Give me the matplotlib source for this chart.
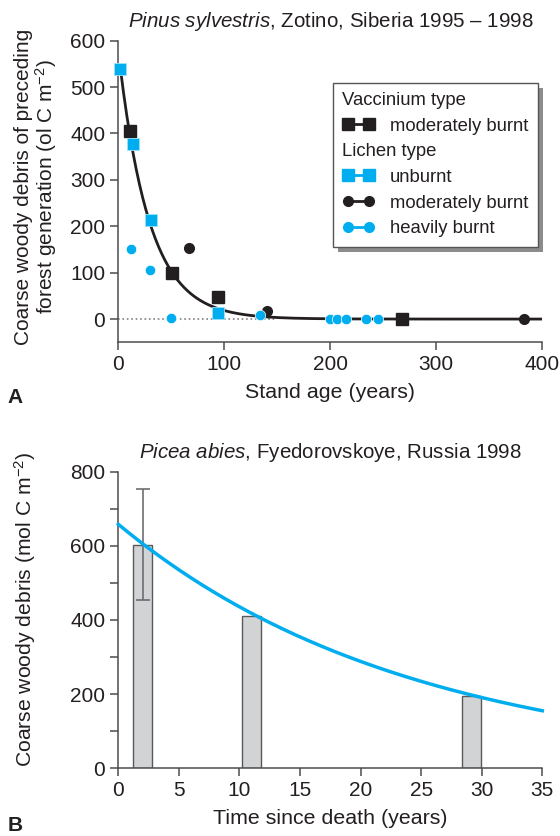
import numpy as np
import matplotlib
matplotlib.use('Agg')
import matplotlib.pyplot as plt
from matplotlib.lines import Line2D
from matplotlib.patches import Rectangle
from matplotlib.ticker import MultipleLocator

plt.rcParams['font.family'] = ['Liberation Sans', 'DejaVu Sans']
plt.rcParams['mathtext.fontset'] = 'custom'
plt.rcParams['mathtext.rm'] = 'Liberation Sans'
plt.rcParams['mathtext.it'] = 'Liberation Sans:italic'

BLACK = '#231f20'
BLUE = '#00aeef'
AXCOL = '#4d4d4d'

# --- panel A data (stand age, CWD) ---
vac_mod_x = [11, 51, 94, 268]
vac_mod_y = [406, 99, 47, 0]
lich_unb_x = [2, 14, 31, 94]
lich_unb_y = [539, 377, 214, 13]
lich_mod_x = [67, 140, 383]
lich_mod_y = [154, 17, 0]
lich_hvy_x = [12, 30, 50, 134, 200, 206, 215, 234, 245]
lich_hvy_y = [150, 106, 2, 8, 0, 0, 0, 0, 0]
# fitted decay curve y = a * exp(-x / tau)
fitA_a = 578.0
fitA_tau = 29.0

# --- panel B data (time since death, CWD) ---
bar_x = [2.0, 11.0, 29.15]
bar_h = [603, 411, 195]
bar_err = 150
fitB_a = 658.0
fitB_k = 0.0413

fig = plt.figure(figsize=(5.6, 8.36), dpi=100)

def style(ax):
    for s in ['top', 'right']:
        ax.spines[s].set_visible(False)
    for s in ['left', 'bottom']:
        ax.spines[s].set_color(AXCOL)
        ax.spines[s].set_linewidth(1.1)
    ax.tick_params(which='both', direction='out', length=6, width=1.1,
                   color=AXCOL, labelsize=15, labelcolor=BLACK)

# ---------------- panel A ----------------
ax1 = fig.add_axes([0.2113, 0.5906, 0.7571, 0.3607])
style(ax1)
ax1.set_xlim(0, 400)
ax1.set_ylim(-50, 600)
ax1.set_xticks([0, 100, 200, 300, 400])
ax1.set_yticks([0, 100, 200, 300, 400, 500, 600])

ax1.plot([0, 150], [0, 0], ls=':', color='#808080', lw=1.2, zorder=1)
xf = np.linspace(lich_unb_x[0], 400, 400)
ax1.plot(xf, fitA_a * np.exp(-xf / fitA_tau), color=BLACK, lw=2, zorder=2)

ax1.plot(vac_mod_x, vac_mod_y, 's', color=BLACK, ms=9, clip_on=False, zorder=3)
ax1.plot(lich_unb_x, lich_unb_y, 's', color=BLUE, mec='#9be3fb', mew=0.6, ms=9, clip_on=False, zorder=4)
ax1.plot(lich_mod_x, lich_mod_y, 'o', color=BLACK, ms=7, clip_on=False, zorder=5)
ax1.plot(lich_hvy_x, lich_hvy_y, 'o', color=BLUE, mec='white', mew=0.5, ms=7.5, clip_on=False, zorder=6)

ax1.set_xlabel('Stand age (years)', fontsize=15.4, color=BLACK, labelpad=6)
ax1.set_ylabel('Coarse woody debris of preceding\nforest generation (ol C m$^{\\mathregular{-2}}$)',
               fontsize=15, color=BLACK, linespacing=1.0)
ax1.yaxis.set_label_coords(-0.14, 0.515)
ax1.set_title(r'$\it{Pinus\ sylvestris}$, Zotino, Siberia 1995 – 1998',
              fontsize=14.8, color=BLACK, pad=10)

handles = [
    Line2D([], [], ls='none'),
    Line2D([], [], color=BLACK, marker='s', ms=8, lw=2),
    Line2D([], [], ls='none'),
    Line2D([], [], color=BLUE, marker='s', ms=8, lw=2),
    Line2D([], [], color=BLACK, marker='o', ms=7, lw=2),
    Line2D([], [], color=BLUE, marker='o', ms=7, lw=2),
]
labels = ['Vaccinium type', 'moderately burnt', 'Lichen type',
          'unburnt', 'moderately burnt', 'heavily burnt']
leg = ax1.legend(handles, labels, loc='upper right', bbox_to_anchor=(0.989, 0.861),
                 borderaxespad=0, numpoints=2, handlelength=1.75, handletextpad=0.85,
                 fontsize=13.3, labelspacing=0.47, borderpad=0.5, fancybox=False,
                 framealpha=1, edgecolor='#555555', labelcolor=BLACK)
leg.get_frame().set_linewidth(1.0)
leg.set_zorder(10)
rows = leg._legend_handle_box.get_children()[0].get_children()
for i in [0, 2]:
    rows[i].get_children()[0].width = 0
    rows[i].sep = 0

# ---------------- panel B ----------------
ax2 = fig.add_axes([0.2113, 0.0811, 0.7571, 0.3547])
style(ax2)
ax2.set_xlim(0, 35)
ax2.set_ylim(0, 800)
ax2.set_xticks(range(0, 36, 5))
ax2.yaxis.set_major_locator(MultipleLocator(200))
ax2.yaxis.set_minor_locator(MultipleLocator(100))

ax2.bar(bar_x, bar_h, width=1.5, color='#d1d3d4', edgecolor='#58595b', lw=1.0, zorder=2)
ax2.errorbar(bar_x[0], bar_h[0], yerr=bar_err, fmt='none', ecolor='#6d6e71',
             elinewidth=1.2, capsize=5, capthick=1.2, zorder=3)
tf = np.linspace(0, 35, 300)
ax2.plot(tf, fitB_a * np.exp(-fitB_k * tf), color=BLUE, lw=2.5, zorder=4, clip_on=False)

ax2.set_xlabel('Time since death (years)', fontsize=15.4, color=BLACK, labelpad=6)
ax2.set_ylabel('Coarse woody debris (mol C m$^{\\mathregular{-2}}$)', fontsize=15.2,
               color=BLACK)
ax2.yaxis.set_label_coords(-0.19, 0.535)
ax2.set_title(r'$\it{Picea\ abies}$, Fyedorovskoye, Russia 1998',
              fontsize=14.8, color=BLACK, pad=10)

fig.text(0.013, 0.518, 'A', fontsize=15, fontweight='bold', color=BLACK)
fig.text(0.013, 0.006, 'B', fontsize=15, fontweight='bold', color=BLACK)

# legend drop shadow, drawn just below the legend inside ax1
fig.canvas.draw()
bb = leg.get_window_extent().transformed(fig.transFigure.inverted())
ax1.add_patch(Rectangle((bb.x0 + 5 / 560, bb.y0 - 5 / 836), bb.width, bb.height,
                        transform=fig.transFigure, facecolor='#8c8c8c',
                        edgecolor='none', zorder=9, clip_on=False))

fig.savefig('out.png', dpi=100)
